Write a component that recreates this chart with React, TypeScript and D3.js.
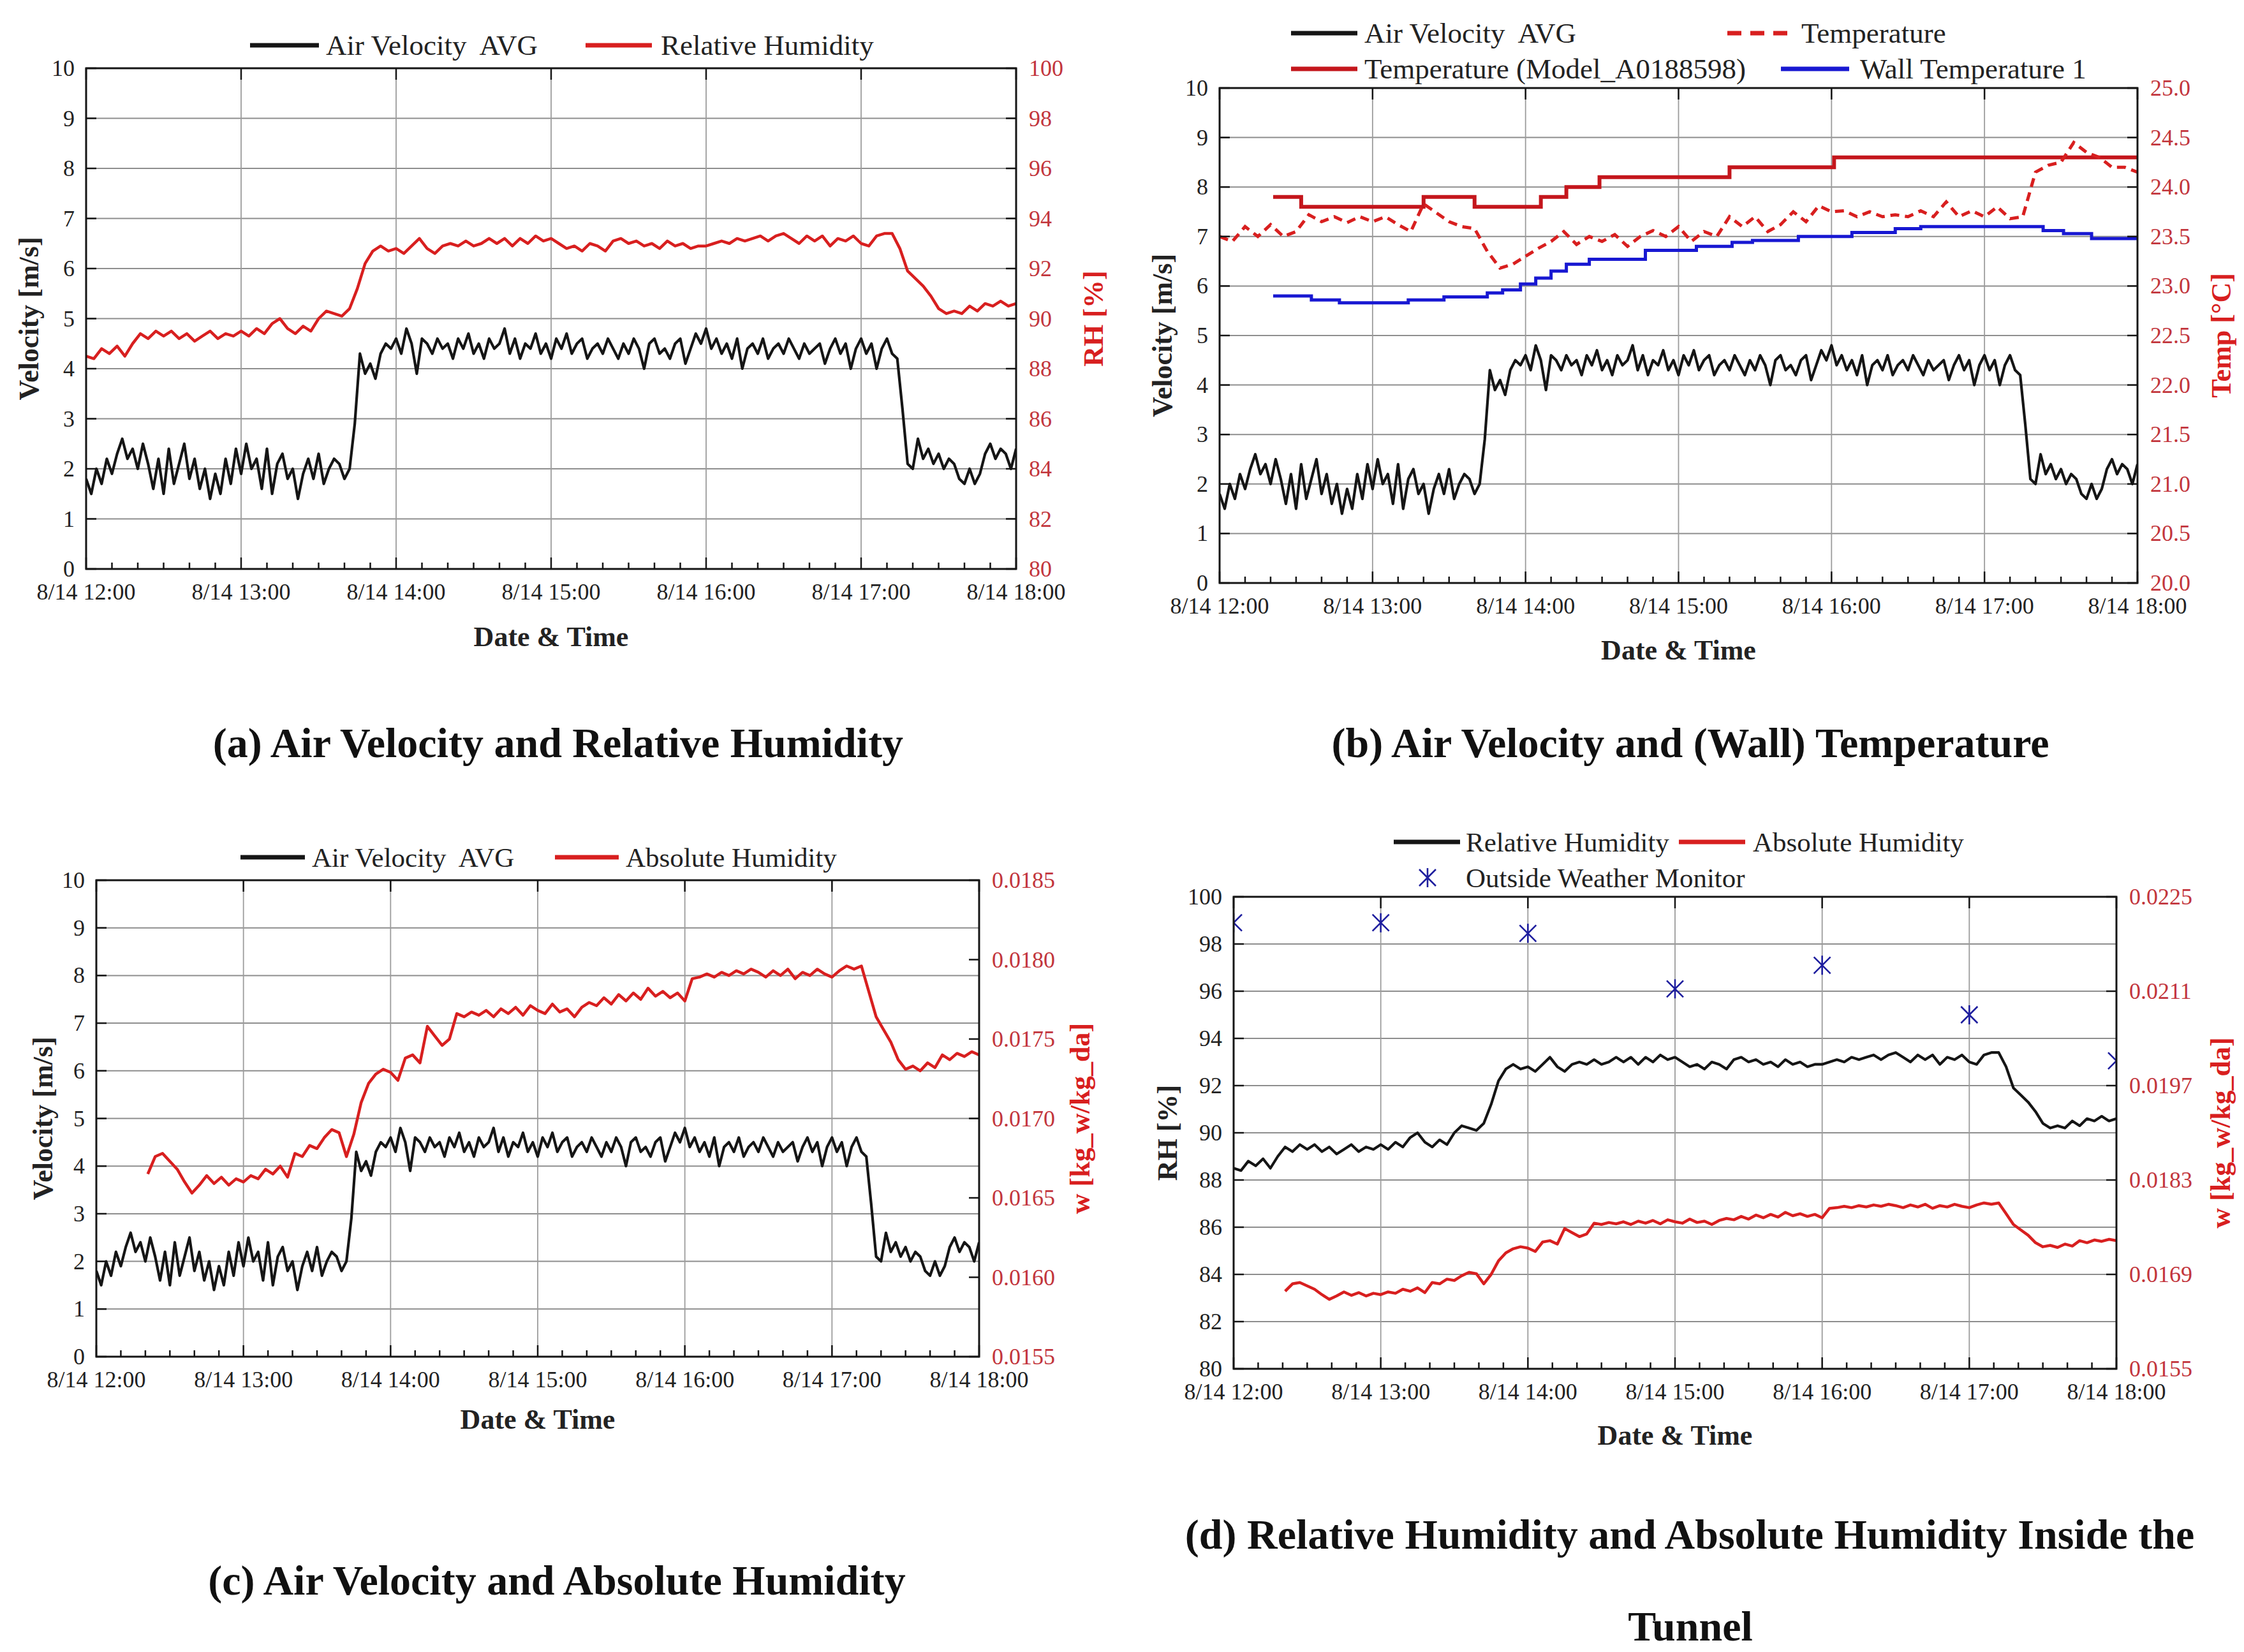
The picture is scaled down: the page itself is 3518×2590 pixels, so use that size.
import React from "react";
import * as d3 from "d3";

// Logger series for 8/14, time in minutes after 12:00.

const HOUR_TICKS = [0, 60, 120, 180, 240, 300, 360];
const HOUR_LABELS = ["8/14 12:00", "8/14 13:00", "8/14 14:00", "8/14 15:00", "8/14 16:00", "8/14 17:00", "8/14 18:00"];

const VEL_TICKS = [0, 1, 2, 3, 4, 5, 6, 7, 8, 9, 10];
const RH_TICKS = [80, 82, 84, 86, 88, 90, 92, 94, 96, 98, 100];
const TEMP_TICKS = [20.0, 20.5, 21.0, 21.5, 22.0, 22.5, 23.0, 23.5, 24.0, 24.5, 25.0];
const W_TICKS_C = [0.0155, 0.016, 0.0165, 0.017, 0.0175, 0.018, 0.0185];
const W_TICKS_D = [0.0155, 0.0169, 0.0183, 0.0197, 0.0211, 0.0225];

// air velocity average, every 2 min [m/s]
const VELOCITY_STEP = 2;
const VELOCITY = [
  1.8, 1.5, 2.0, 1.7, 2.2, 1.9, 2.3, 2.6, 2.2, 2.4,
  2.0, 2.5, 2.1, 1.6, 2.2, 1.5, 2.4, 1.7, 2.1, 2.5,
  1.8, 2.2, 1.6, 2.0, 1.4, 1.9, 1.5, 2.2, 1.7, 2.4,
  1.9, 2.5, 2.0, 2.2, 1.6, 2.4, 1.5, 2.1, 2.3, 1.8,
  2.0, 1.4, 1.9, 2.2, 1.8, 2.3, 1.7, 2.0, 2.2, 2.1,
  1.8, 2.0, 2.9, 4.3, 3.9, 4.1, 3.8, 4.3, 4.5, 4.4,
  4.6, 4.3, 4.8, 4.5, 3.9, 4.6, 4.5, 4.3, 4.6, 4.4,
  4.5, 4.2, 4.6, 4.4, 4.7, 4.3, 4.5, 4.2, 4.6, 4.4,
  4.5, 4.8, 4.3, 4.6, 4.2, 4.5, 4.4, 4.7, 4.3, 4.5,
  4.2, 4.6, 4.4, 4.7, 4.3, 4.5, 4.6, 4.2, 4.4, 4.5,
  4.3, 4.6, 4.4, 4.2, 4.5, 4.3, 4.6, 4.4, 4.0, 4.5,
  4.6, 4.3, 4.4, 4.2, 4.5, 4.6, 4.1, 4.4, 4.7, 4.5,
  4.8, 4.4, 4.6, 4.3, 4.5, 4.2, 4.6, 4.0, 4.4, 4.5,
  4.3, 4.6, 4.2, 4.4, 4.5, 4.3, 4.6, 4.4, 4.2, 4.5,
  4.3, 4.4, 4.5, 4.1, 4.4, 4.6, 4.3, 4.5, 4.0, 4.4,
  4.6, 4.3, 4.5, 4.0, 4.4, 4.6, 4.3, 4.2, 3.2, 2.1,
  2.0, 2.6, 2.2, 2.4, 2.1, 2.3, 2.0, 2.2, 2.1, 1.8,
  1.7, 2.0, 1.7, 1.9, 2.3, 2.5, 2.2, 2.4, 2.3, 2.0,
  2.4,
];

// relative humidity inside the tunnel, every 3 min [%]
const RH_STEP = 3;
const RH = [
  88.5, 88.4, 88.8, 88.6, 88.9, 88.5, 89.0, 89.4, 89.2, 89.5,
  89.3, 89.5, 89.2, 89.4, 89.1, 89.3, 89.5, 89.2, 89.4, 89.3,
  89.5, 89.3, 89.6, 89.4, 89.8, 90.0, 89.6, 89.4, 89.7, 89.5,
  90.0, 90.3, 90.2, 90.1, 90.4, 91.2, 92.2, 92.7, 92.9, 92.7,
  92.8, 92.6, 92.9, 93.2, 92.8, 92.6, 92.9, 93.0, 92.9, 93.1,
  92.9, 93.0, 93.2, 93.0, 93.2, 92.9, 93.2, 93.0, 93.3, 93.1,
  93.2, 93.0, 92.8, 92.9, 92.7, 93.0, 92.9, 92.7, 93.1, 93.2,
  93.0, 93.1, 92.9, 93.0, 92.8, 93.1, 92.9, 93.0, 92.8, 92.9,
  92.9, 93.0, 93.1, 93.0, 93.2, 93.1, 93.2, 93.3, 93.1, 93.3,
  93.4, 93.2, 93.0, 93.3, 93.1, 93.3, 92.9, 93.2, 93.1, 93.3,
  93.0, 92.9, 93.3, 93.4, 93.4, 92.8, 91.9, 91.6, 91.3, 90.9,
  90.4, 90.2, 90.3, 90.2, 90.5, 90.3, 90.6, 90.5, 90.7, 90.5,
  90.6,
];

// absolute humidity, every 3 min from 12:21 [kg_w/kg_da]
const W_START = 21;
const W_STEP = 3;
const ABS_HUMIDITY = [
  0.01665, 0.01676, 0.01678, 0.01673, 0.01668, 0.0166, 0.01653, 0.01658, 0.01664, 0.01659,
  0.01663, 0.01658, 0.01662, 0.0166, 0.01664, 0.01662, 0.01668, 0.01665, 0.0167, 0.01663,
  0.01678, 0.01676, 0.01683, 0.01681, 0.01688, 0.01693, 0.01691, 0.01676, 0.0169, 0.0171,
  0.01722, 0.01728, 0.01731, 0.01729, 0.01724, 0.01738, 0.0174, 0.01735, 0.01758, 0.01752,
  0.01746, 0.0175, 0.01766, 0.01764, 0.01767, 0.01765, 0.01768, 0.01764, 0.01769, 0.01766,
  0.0177, 0.01765, 0.01771, 0.01768, 0.01766, 0.01772, 0.01767, 0.01769, 0.01764, 0.0177,
  0.01773, 0.01771, 0.01776, 0.01772, 0.01778, 0.01774, 0.01779, 0.01775, 0.01782, 0.01777,
  0.0178, 0.01776, 0.01779, 0.01774, 0.01788, 0.01789, 0.01791, 0.01789, 0.01792, 0.0179,
  0.01793, 0.01791, 0.01794, 0.01792, 0.01789, 0.01793, 0.0179, 0.01794, 0.01788, 0.01792,
  0.0179, 0.01794, 0.01791, 0.01789, 0.01793, 0.01796, 0.01794, 0.01796, 0.0178, 0.01764,
  0.01756, 0.01748, 0.01737, 0.01731, 0.01733, 0.0173, 0.01735, 0.01732, 0.0174, 0.01737,
  0.01741, 0.01739, 0.01742, 0.0174,
];

// measured air temperature, every 5 min [°C]
const TEMP_STEP = 5;
const TEMP = [
  23.5, 23.45, 23.6, 23.5, 23.62, 23.5, 23.55, 23.72, 23.65, 23.7,
  23.64, 23.7, 23.65, 23.7, 23.62, 23.55, 23.83, 23.74, 23.65, 23.6,
  23.58, 23.35, 23.18, 23.22, 23.3, 23.38, 23.45, 23.55, 23.42, 23.5,
  23.45, 23.52, 23.4, 23.5, 23.56, 23.5, 23.6, 23.45, 23.55, 23.5,
  23.7, 23.6, 23.7, 23.55, 23.62, 23.75, 23.65, 23.81, 23.75, 23.76,
  23.7, 23.75, 23.7, 23.72, 23.7, 23.76, 23.7, 23.85, 23.7, 23.76,
  23.7, 23.8, 23.68, 23.7, 24.15, 24.22, 24.25, 24.45, 24.35, 24.3,
  24.2, 24.2, 24.15,
];

// Model_A0188598 logger, stepped readings
const MODEL_TEMP_TIMES = [21, 32, 80, 100, 126, 136, 149, 200, 241, 360];
const MODEL_TEMP = [23.9, 23.8, 23.9, 23.8, 23.9, 24.0, 24.1, 24.2, 24.3, 24.3];

// wall temperature 1, stepped readings
const WALL_TEMP_TIMES = [21, 36, 47, 74, 88, 105, 111, 118, 124, 130, 136, 145, 167, 187, 201, 209, 227, 248, 265, 275, 323, 331, 342, 360];
const WALL_TEMP = [22.9, 22.86, 22.83, 22.86, 22.89, 22.93, 22.96, 23.02, 23.08, 23.15, 23.22, 23.27, 23.36, 23.4, 23.44, 23.46, 23.5, 23.54, 23.58, 23.6, 23.56, 23.53, 23.48, 23.48];

// outside weather monitor, hourly RH [%]
const OUTSIDE_TIMES = [0, 60, 120, 180, 240, 300, 360];
const OUTSIDE_RH = [98.9, 98.9, 98.45, 96.1, 97.1, 95.0, 93.05];

const FONT = '"Liberation Serif", "Times New Roman", serif';
const INK = "#151515";
const RED = "#d81f1f";
const DARK_RED = "#c4161c";
const TICK_RED = "#c2353c";
const BLUE = "#1818d2";
const NAVY = "#1e1e9e";

// two spaces in the series name, kept with a no-break space
const VEL_NAME = "Air Velocity\u00a0 AVG";

type Box = { left: number; right: number; top: number; bottom: number };
type Pt = [number, number];
type Lin = d3.ScaleLinear<number, number>;

const sampled = (values: number[], start: number, step: number): Pt[] =>
  values.map((v, i) => [start + i * step, v]);
const paired = (times: number[], values: number[]): Pt[] =>
  times.map((t, i) => [t, values[i]]);

const timeScale = (box: Box) => d3.scaleLinear().domain([0, 360]).range([box.left, box.right]);

function linePath(x: Lin, y: Lin, pts: Pt[], curve: d3.CurveFactory = d3.curveLinear) {
  return (
    d3
      .line<Pt>()
      .x((d) => x(d[0]))
      .y((d) => y(d[1]))
      .curve(curve)(pts) || ""
  );
}

type AxesProps = {
  id: string;
  box: Box;
  yL: Lin;
  leftTicks: number[];
  leftFmt: (v: number) => string;
  yR: Lin;
  rightTicks: number[];
  rightFmt: (v: number) => string;
  leftTitle: string;
  leftTitleX: number;
  rightTitle: string;
  rightTitleX: number;
  xTitleY: number;
  children?: React.ReactNode;
};

function Axes(p: AxesProps) {
  const { box } = p;
  const x = timeScale(box);
  const minor = d3.range(0, 361, 10);
  const cy = (box.top + box.bottom) / 2;
  const cx = (box.left + box.right) / 2;
  return (
    <g>
      <defs>
        <clipPath id={p.id}>
          <rect x={box.left} y={box.top} width={box.right - box.left} height={box.bottom - box.top} />
        </clipPath>
      </defs>
      {p.leftTicks.slice(1, -1).map((t) => (
        <line key={"gy" + t} x1={box.left} x2={box.right} y1={p.yL(t)} y2={p.yL(t)} stroke="#8e8e8e" strokeWidth={2} />
      ))}
      {HOUR_TICKS.slice(1, -1).map((t) => (
        <line key={"gx" + t} x1={x(t)} x2={x(t)} y1={box.top} y2={box.bottom} stroke="#9c9c9c" strokeWidth={1.8} />
      ))}
      <g clipPath={`url(#${p.id})`}>{p.children}</g>
      {minor.map((t) => (
        <line key={"mx" + t} x1={x(t)} x2={x(t)} y1={box.bottom} y2={box.bottom - (t % 60 === 0 ? 18 : 10)} stroke={INK} strokeWidth={2.5} />
      ))}
      {HOUR_TICKS.map((t) => (
        <line key={"tx" + t} x1={x(t)} x2={x(t)} y1={box.top} y2={box.top + 18} stroke={INK} strokeWidth={2.5} />
      ))}
      {p.leftTicks.map((t) => (
        <line key={"ly" + t} x1={box.left} x2={box.left + 16} y1={p.yL(t)} y2={p.yL(t)} stroke={INK} strokeWidth={2.5} />
      ))}
      {p.rightTicks.map((t) => (
        <line key={"ry" + t} x1={box.right} x2={box.right - 16} y1={p.yR(t)} y2={p.yR(t)} stroke={INK} strokeWidth={2.5} />
      ))}
      <rect x={box.left} y={box.top} width={box.right - box.left} height={box.bottom - box.top} fill="none" stroke={INK} strokeWidth={3} />
      {p.leftTicks.map((t) => (
        <text key={"lt" + t} x={box.left - 18} y={p.yL(t)} textAnchor="end" dominantBaseline="central" fontSize={36} fill="#222">
          {p.leftFmt(t)}
        </text>
      ))}
      {p.rightTicks.map((t) => (
        <text key={"rt" + t} x={box.right + 20} y={p.yR(t)} dominantBaseline="central" fontSize={36} fill={TICK_RED}>
          {p.rightFmt(t)}
        </text>
      ))}
      {HOUR_TICKS.map((t, i) => (
        <text key={"xt" + t} x={x(t)} y={box.bottom + 36} textAnchor="middle" dominantBaseline="central" fontSize={36} fill="#222">
          {HOUR_LABELS[i]}
        </text>
      ))}
      <text x={cx} y={p.xTitleY} textAnchor="middle" dominantBaseline="central" fontSize={44} fontWeight="bold" fill="#222">
        Date &amp; Time
      </text>
      <text transform={`translate(${p.leftTitleX},${cy}) rotate(-90)`} textAnchor="middle" dominantBaseline="central" fontSize={44} fontWeight="bold" fill="#222">
        {p.leftTitle}
      </text>
      <text transform={`translate(${p.rightTitleX},${cy}) rotate(-90)`} textAnchor="middle" dominantBaseline="central" fontSize={44} fontWeight="bold" fill={RED}>
        {p.rightTitle}
      </text>
    </g>
  );
}

function LegendLine(props: { x1: number; x2: number; y: number; color: string; dash?: string; label: string; tx: number; size: number }) {
  return (
    <g>
      <line x1={props.x1} x2={props.x2} y1={props.y} y2={props.y} stroke={props.color} strokeWidth={7} strokeDasharray={props.dash} />
      <text x={props.tx} y={props.y} dominantBaseline="central" fontSize={props.size} fill="#222">
        {props.label}
      </text>
    </g>
  );
}

function Asterisk({ cx, cy }: { cx: number; cy: number }) {
  const r = 13;
  const d = `M0,${-r - 2}L0,${r + 2}M${-r},${-r}L${r},${r}M${-r},${r}L${r},${-r}`;
  return <path transform={`translate(${cx},${cy})`} d={d} stroke={NAVY} strokeWidth={2.6} fill="none" />;
}

const fmtInt = (v: number) => String(v);
const fmt1 = (v: number) => v.toFixed(1);
const fmt4 = (v: number) => v.toFixed(4);

function PanelA() {
  const box: Box = { left: 135, right: 1593, top: 107, bottom: 892 };
  const x = timeScale(box);
  const yL = d3.scaleLinear().domain([0, 10]).range([box.bottom, box.top]);
  const yR = d3.scaleLinear().domain([80, 100]).range([box.bottom, box.top]);
  return (
    <g>
      <Axes id="clipA" box={box} yL={yL} leftTicks={VEL_TICKS} leftFmt={fmtInt} yR={yR} rightTicks={RH_TICKS} rightFmt={fmtInt}
        leftTitle="Velocity [m/s]" leftTitleX={45} rightTitle="RH [%]" rightTitleX={1714} xTitleY={998}>
        <path d={linePath(x, yR, sampled(RH, 0, RH_STEP))} fill="none" stroke={RED} strokeWidth={4.5} strokeLinejoin="round" />
        <path d={linePath(x, yL, sampled(VELOCITY, 0, VELOCITY_STEP))} fill="none" stroke={INK} strokeWidth={4.2} strokeLinejoin="round" />
      </Axes>
      <LegendLine x1={392} x2={500} y={71} color={INK} label={VEL_NAME} tx={511} size={45} />
      <LegendLine x1={918} x2={1022} y={71} color={RED} label="Relative Humidity" tx={1036} size={45} />
    </g>
  );
}

function PanelB() {
  const box: Box = { left: 1912, right: 3351, top: 138, bottom: 914 };
  const x = timeScale(box);
  const yL = d3.scaleLinear().domain([0, 10]).range([box.bottom, box.top]);
  const yR = d3.scaleLinear().domain([20, 25]).range([box.bottom, box.top]);
  return (
    <g>
      <Axes id="clipB" box={box} yL={yL} leftTicks={VEL_TICKS} leftFmt={fmtInt} yR={yR} rightTicks={TEMP_TICKS} rightFmt={fmt1}
        leftTitle="Velocity [m/s]" leftTitleX={1822} rightTitle="Temp [°C]" rightTitleX={3482} xTitleY={1019}>
        <path d={linePath(x, yR, paired(WALL_TEMP_TIMES, WALL_TEMP), d3.curveStepAfter)} fill="none" stroke={BLUE} strokeWidth={5} />
        <path d={linePath(x, yR, paired(MODEL_TEMP_TIMES, MODEL_TEMP), d3.curveStepAfter)} fill="none" stroke={DARK_RED} strokeWidth={6} />
        <path d={linePath(x, yR, sampled(TEMP, 0, TEMP_STEP))} fill="none" stroke={RED} strokeWidth={5} strokeDasharray="14 9" />
        <path d={linePath(x, yL, sampled(VELOCITY, 0, VELOCITY_STEP))} fill="none" stroke={INK} strokeWidth={4.2} strokeLinejoin="round" />
      </Axes>
      <LegendLine x1={2024} x2={2128} y={52} color={INK} label={VEL_NAME} tx={2139} size={45} />
      <LegendLine x1={2024} x2={2128} y={108} color={DARK_RED} label="Temperature (Model_A0188598)" tx={2139} size={45} />
      <LegendLine x1={2708} x2={2803} y={52} color={RED} dash="22 14" label="Temperature" tx={2824} size={45} />
      <LegendLine x1={2792} x2={2899} y={108} color={BLUE} label="Wall Temperature 1" tx={2916} size={45} />
    </g>
  );
}

function PanelC() {
  const box: Box = { left: 151, right: 1535, top: 1380, bottom: 2127 };
  const x = timeScale(box);
  const yL = d3.scaleLinear().domain([0, 10]).range([box.bottom, box.top]);
  const yR = d3.scaleLinear().domain([0.0155, 0.0185]).range([box.bottom, box.top]);
  return (
    <g>
      <Axes id="clipC" box={box} yL={yL} leftTicks={VEL_TICKS} leftFmt={fmtInt} yR={yR} rightTicks={W_TICKS_C} rightFmt={fmt4}
        leftTitle="Velocity [m/s]" leftTitleX={67} rightTitle="w [kg_w/kg_da]" rightTitleX={1693} xTitleY={2225}>
        <path d={linePath(x, yR, sampled(ABS_HUMIDITY, W_START, W_STEP))} fill="none" stroke={RED} strokeWidth={4.5} strokeLinejoin="round" />
        <path d={linePath(x, yL, sampled(VELOCITY, 0, VELOCITY_STEP))} fill="none" stroke={INK} strokeWidth={4.2} strokeLinejoin="round" />
      </Axes>
      <LegendLine x1={377} x2={478} y={1344} color={INK} label={VEL_NAME} tx={489} size={43} />
      <LegendLine x1={870} x2={970} y={1344} color={RED} label="Absolute Humidity" tx={981} size={43} />
    </g>
  );
}

function PanelD() {
  const box: Box = { left: 1934, right: 3318, top: 1406, bottom: 2146 };
  const x = timeScale(box);
  const yL = d3.scaleLinear().domain([80, 100]).range([box.bottom, box.top]);
  const yR = d3.scaleLinear().domain([0.0155, 0.0225]).range([box.bottom, box.top]);
  return (
    <g>
      <Axes id="clipD" box={box} yL={yL} leftTicks={RH_TICKS} leftFmt={fmtInt} yR={yR} rightTicks={W_TICKS_D} rightFmt={fmt4}
        leftTitle="RH [%]" leftTitleX={1830} rightTitle="w [kg_w/kg_da]" rightTitleX={3481} xTitleY={2250}>
        <path d={linePath(x, yR, sampled(ABS_HUMIDITY, W_START, W_STEP))} fill="none" stroke={RED} strokeWidth={4.5} strokeLinejoin="round" />
        <path d={linePath(x, yL, sampled(RH, 0, RH_STEP))} fill="none" stroke={INK} strokeWidth={4.2} strokeLinejoin="round" />
        {OUTSIDE_TIMES.map((t, i) => (
          <Asterisk key={t} cx={x(t)} cy={yL(OUTSIDE_RH[i])} />
        ))}
      </Axes>
      <LegendLine x1={2185} x2={2289} y={1320} color={INK} label="Relative Humidity" tx={2298} size={43} />
      <LegendLine x1={2632} x2={2736} y={1320} color={RED} label="Absolute Humidity" tx={2748} size={43} />
      <Asterisk cx={2238} cy={1376} />
      <text x={2298} y={1376} dominantBaseline="central" fontSize={43} fill="#222">
        Outside Weather Monitor
      </text>
    </g>
  );
}

function Caption({ x, y, text }: { x: number; y: number; text: string }) {
  return (
    <text x={x} y={y} textAnchor="middle" dominantBaseline="central" fontSize={66} fontWeight="bold" fill="#111">
      {text}
    </text>
  );
}

export default function App() {
  return (
    <div style={{ position: "absolute", left: 0, top: 0 }}>
      <svg width={3518} height={2590} viewBox="0 0 3518 2590" fontFamily={FONT} style={{ display: "block" }}>
        <rect width={3518} height={2590} fill="#fff" />
        <PanelA />
        <PanelB />
        <PanelC />
        <PanelD />
        <Caption x={875} y={1164} text="(a) Air Velocity and Relative Humidity" />
        <Caption x={2650} y={1164} text="(b) Air Velocity and (Wall) Temperature" />
        <Caption x={873} y={2477} text="(c) Air Velocity and Absolute Humidity" />
        <Caption x={2649} y={2405} text="(d) Relative Humidity and Absolute Humidity Inside the" />
        <Caption x={2650} y={2549} text="Tunnel" />
      </svg>
    </div>
  );
}
